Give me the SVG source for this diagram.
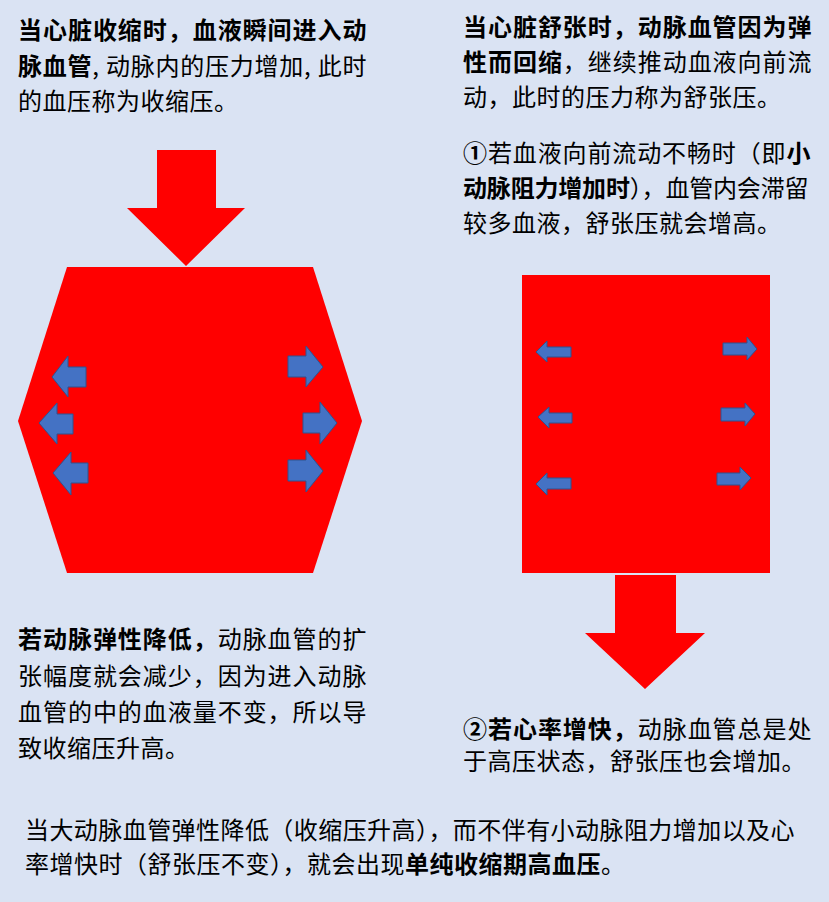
<svg xmlns="http://www.w3.org/2000/svg" width="829" height="902" viewBox="0 0 829 902">
<style>
.t{font-family:"Noto Sans CJK SC","Noto Sans",sans-serif;font-size:24px;fill:#000;letter-spacing:0.5px}
.b{font-weight:700}
.red{fill:#FF0000}
.blue{fill:#4472C4;stroke:#2F528F;stroke-width:1}
</style>
<rect width="829" height="902" fill="#DAE3F3"/>

<g id="text-systole">
<text class="t b" x="18" y="39" textLength="349">当心脏收缩时，血液瞬间进入动</text>
<text class="t" x="18" y="75" textLength="349"><tspan class="b">脉血管</tspan>, 动脉内的压力增加, 此时</text>
<text class="t" x="18" y="110">的血压称为收缩压。</text>
</g>

<g id="text-diastole">
<text class="t b" x="463" y="36" textLength="349">当心脏舒张时，动脉血管因为弹</text>
<text class="t" x="463" y="71" textLength="349"><tspan class="b">性而回缩</tspan>，继续推动血液向前流</text>
<text class="t" x="463" y="106">动，此时的压力称为舒张压。</text>
<text class="t" x="463" y="162" textLength="348"><tspan class="b">①</tspan>若血液向前流动不畅时（即<tspan class="b">小</tspan></text>
<text class="t" x="463" y="197" textLength="346"><tspan class="b">动脉阻力增加时</tspan>），血管内会滞留</text>
<text class="t" x="463" y="232">较多血液，舒张压就会增高。</text>
</g>

<g id="arrow-in">
<polygon class="red" points="157,150 216,150 216,208 245,208 186,266 127,208 157,208"/>
</g>

<g id="hexagon">
<polygon class="red" points="67,267 313,267 362,421 313,573 67,573 18,421"/>
<polygon class="blue" points="52,377 68,356 68,367 86,367 86,387 68,387 68,397"/>
<polygon class="blue" points="39,423 57,403 57,414 73,414 73,434 57,434 57,444"/>
<polygon class="blue" points="53,473 71,452 71,463 88,463 88,483 71,483 71,495"/>
<polygon class="blue" points="323,367 306,346 306,356 288,356 288,377 306,377 306,387"/>
<polygon class="blue" points="337,423 320,402 320,413 303,413 303,433 320,433 320,444"/>
<polygon class="blue" points="323,471 306,450 306,460 288,460 288,481 306,481 306,492"/>
</g>

<g id="rectangle">
<rect class="red" x="522" y="275" width="248" height="298"/>
<polygon class="blue" points="536,352 547,341 547,347 571,347 571,357 547,357 547,362"/>
<polygon class="blue" points="538,417 549,407 549,413 572,413 572,423 549,423 549,428"/>
<polygon class="blue" points="536,484 547,473 547,478 571,478 571,489 547,489 547,495"/>
<polygon class="blue" points="757,349 747,337 747,343 723,343 723,355 747,355 747,360"/>
<polygon class="blue" points="755,414 745,403 745,408 721,408 721,421 745,421 745,426"/>
<polygon class="blue" points="751,478 740,467 740,473 717,473 717,485 740,485 740,490"/>
</g>

<g id="arrow-out">
<polygon class="red" points="615,575 676,575 676,633 705,633 645,689 585,633 615,633"/>
</g>

<g id="text-elasticity">
<text class="t" x="18" y="648" textLength="349"><tspan class="b">若动脉弹性降低，</tspan>动脉血管的扩</text>
<text class="t" x="18" y="685" textLength="349">张幅度就会减少，因为进入动脉</text>
<text class="t" x="18" y="721" textLength="349">血管的中的血液量不变，所以导</text>
<text class="t" x="18" y="757">致收缩压升高。</text>
</g>

<g id="text-heartrate">
<text class="t" x="463" y="738" textLength="349"><tspan class="b">②若心率增快，</tspan>动脉血管总是处</text>
<text class="t" x="463" y="770">于高压状态，舒张压也会增加。</text>
</g>

<g id="text-conclusion">
<text class="t" x="25" y="839" textLength="770">当大动脉血管弹性降低（收缩压升高），而不伴有小动脉阻力增加以及心</text>
<text class="t" x="25" y="873">率增快时（舒张压不变），就会出现<tspan class="b">单纯收缩期高血压</tspan>。</text>
</g>
</svg>
